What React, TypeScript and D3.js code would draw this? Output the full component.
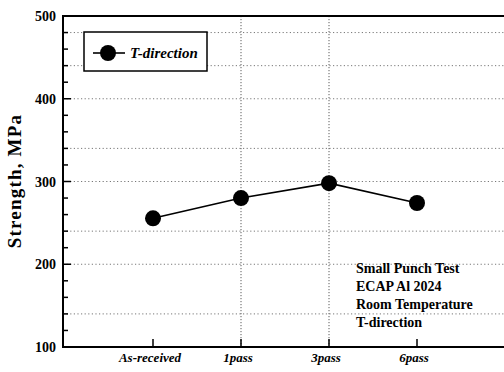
import React from "react";
import * as d3 from "d3";

const categories = ["As-received", "1pass", "3pass", "6pass"];
const strengthT = [255.5, 280, 298, 274];
const yTickValues = [100, 200, 300, 400, 500];
const yMinorTicks = d3.range(100, 501, 20);
const hGridValues = [480, 440, 400, 340, 300, 240, 200, 140];
const vGridCategories = ["1pass", "3pass"];
const annotationLines = ["Small Punch Test", "ECAP Al 2024", "Room Temperature", "T-direction"];
const legendLabel = "T-direction";

const W = 504;
const H = 372;
const M = { left: 63, top: 16, right: 504, bottom: 347 };
const FONT = "Liberation Serif, Times New Roman, serif";

export default function App() {
  const x = d3.scaleLinear().domain([0, categories.length + 1]).range([65, 505]);
  const y = d3.scaleLinear().domain([100, 500]).range([M.bottom, M.top]);
  const xi = (c: string) => x(categories.indexOf(c) + 1);

  const line = d3
    .line<number>()
    .x((_, i) => x(i + 1))
    .y((d) => y(d));

  return (
    <div style={{ position: "absolute", left: 0, top: 0, width: W, height: H, overflow: "hidden" }}>
      <svg
        width={W}
        height={H}
        style={{ display: "block", background: "#fff", fontFamily: FONT }}
      >
        <rect x={0} y={0} width={W} height={H} fill="#fff" />
        {hGridValues.map((v) => (
          <line
            key={"hg" + v}
            x1={M.left}
            x2={M.right}
            y1={y(v)}
            y2={y(v)}
            stroke="#555"
            strokeWidth={0.8}
            strokeDasharray="1.2,2.4"
          />
        ))}
        {vGridCategories.map((c) => (
          <line
            key={"vg" + c}
            x1={xi(c)}
            x2={xi(c)}
            y1={M.top}
            y2={M.bottom}
            stroke="#333"
            strokeWidth={0.8}
            strokeDasharray="1.2,1.8"
          />
        ))}
        <line x1={M.left} x2={M.right} y1={M.top} y2={M.top} stroke="#000" strokeWidth={2} />
        <line x1={M.left} x2={M.right} y1={M.bottom} y2={M.bottom} stroke="#000" strokeWidth={2} />
        <line x1={M.left} x2={M.left} y1={M.top - 1} y2={M.bottom + 1} stroke="#000" strokeWidth={2} />
        {yMinorTicks.map((v) => (
          <line
            key={"ym" + v}
            x1={M.left}
            x2={M.left + (v % 100 === 0 ? 8 : 5)}
            y1={y(v)}
            y2={y(v)}
            stroke="#000"
            strokeWidth={1.5}
          />
        ))}
        {yTickValues.map((v) => (
          <text
            key={"yl" + v}
            x={56}
            y={y(v) + 5}
            textAnchor="end"
            fontSize={14}
            fontWeight="bold"
            fill="#000"
          >
            {v}
          </text>
        ))}
        {categories.map((c) => (
          <g key={"xt" + c}>
            <line x1={xi(c)} x2={xi(c)} y1={M.bottom} y2={M.bottom - 8} stroke="#000" strokeWidth={1.5} />
            <text
              x={xi(c) - 3}
              y={362}
              textAnchor="middle"
              fontSize={13}
              fontWeight="bold"
              fontStyle="italic"
              fill="#000"
            >
              {c}
            </text>
          </g>
        ))}
        <text
          transform={`translate(21, 181) rotate(-90)`}
          textAnchor="middle"
          fontSize={19}
          fontWeight="bold"
          letterSpacing={1.2}
          fill="#000"
        >
          Strength, MPa
        </text>
        <path d={line(strengthT) || ""} fill="none" stroke="#000" strokeWidth={1.6} />
        {strengthT.map((v, i) => (
          <circle key={"pt" + i} cx={x(i + 1)} cy={y(v)} r={8} fill="#000" />
        ))}
        <rect x={84} y={32} width={123} height={39} fill="#fff" stroke="#000" strokeWidth={1.5} />
        <line x1={93} x2={125} y1={53} y2={53} stroke="#000" strokeWidth={1.6} />
        <circle cx={108} cy={53} r={8} fill="#000" />
        <text x={130} y={58} fontSize={15} fontWeight="bold" fontStyle="italic" fill="#000">
          {legendLabel}
        </text>
        {annotationLines.map((t, i) => (
          <text key={"an" + i} x={356} y={273 + i * 18} fontSize={14} fontWeight="bold" fill="#000">
            {t}
          </text>
        ))}
      </svg>
    </div>
  );
}
